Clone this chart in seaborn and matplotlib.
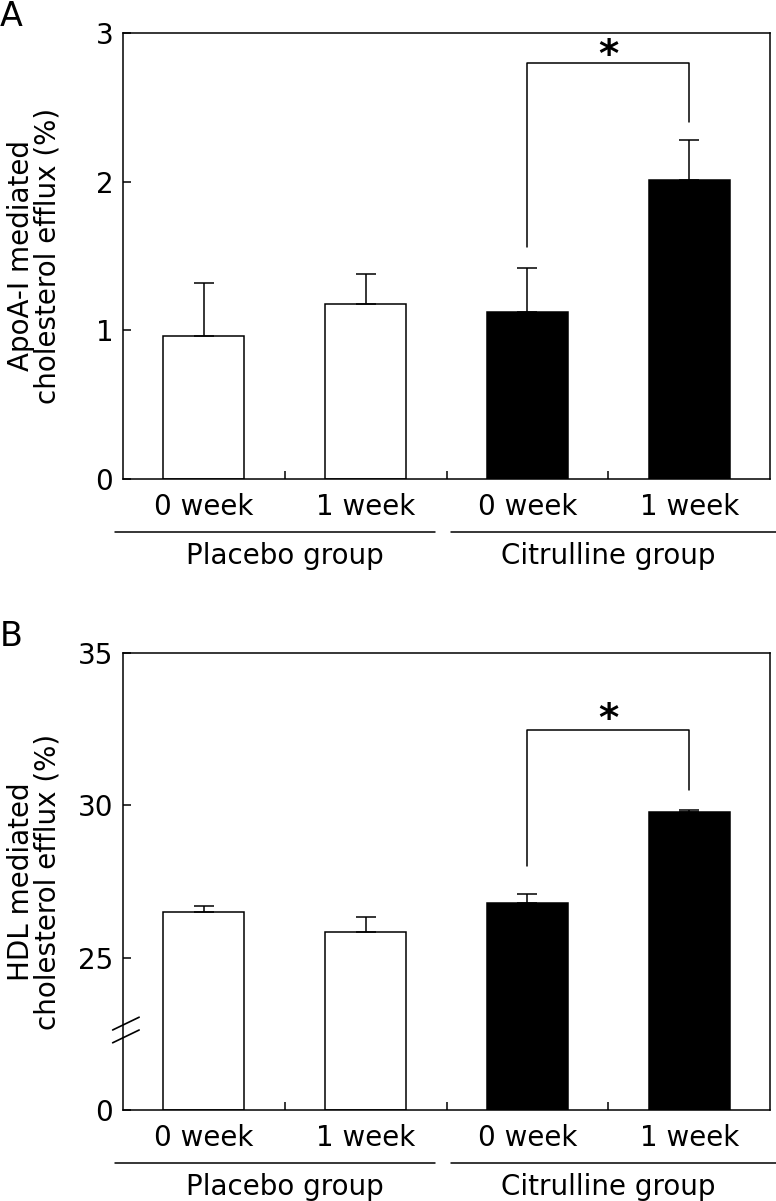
import numpy as np
import pandas as pd
import matplotlib
matplotlib.use('Agg')
import matplotlib.pyplot as plt
import matplotlib.transforms as mtransforms
import seaborn as sns

conditions = ['P0', 'P1', 'C0', 'C1']
week_labels = ['0 week', '1 week', '0 week', '1 week']
group_labels = ['Placebo group', 'Citrulline group']
bar_colors = ['white', 'white', 'black', 'black']

apoa_mean = [0.96, 1.18, 1.12, 2.01]
apoa_sem = [0.36, 0.20, 0.30, 0.27]
apoa_bracket = [1.56, 2.80, 2.40]
apoa_star_y = 2.77

hdl_mean = [26.51, 25.83, 26.78, 29.77]
hdl_sem = [0.17, 0.50, 0.32, 0.06]
hdl_bracket = [28.0, 32.47, 30.5]
hdl_star_y = 32.45

sns.set_style('ticks')
plt.rcParams['font.family'] = ['DejaVu Sans']
plt.rcParams['font.size'] = 20
plt.rcParams['axes.linewidth'] = 1.1
plt.rcParams['text.color'] = 'black'
plt.rcParams['xtick.color'] = 'black'
plt.rcParams['ytick.color'] = 'black'
plt.rcParams['axes.labelcolor'] = 'black'

fig = plt.figure(figsize=(7.76, 12.01), dpi=100)
ax_a = fig.add_axes([0.1585, 0.6012, 0.8338, 0.3713])
ax_b = fig.add_axes([0.1585, 0.0758, 0.8338, 0.3805])


def fwd(v):
    v = np.asarray(v, dtype=float)
    return np.where(v < 25, v / 5.0, v - 20.0)


def inv(u):
    u = np.asarray(u, dtype=float)
    return np.where(u < 5, u * 5.0, u + 20.0)


def draw_panel(ax, means, sems, bracket, star_y, ylabel, letter):
    df = pd.DataFrame({'cond': conditions, 'val': means})
    sns.barplot(data=df, x='cond', y='val', hue='cond', palette=bar_colors,
                edgecolor='black', linewidth=1.1, width=0.5, legend=False, ax=ax)
    ax.errorbar(range(4), means, yerr=[np.zeros(4), sems], fmt='none',
                ecolor='black', elinewidth=1.1, capsize=7.2, capthick=1.1, zorder=1)
    ax.plot([2, 2, 3, 3], [bracket[0], bracket[1], bracket[1], bracket[2]],
            color='black', lw=1.1)
    ax.text(2.5, star_y, '*', ha='center', va='baseline', fontsize=28,
            fontweight='bold')

    ax.set_xlim(-0.5, 3.5)
    ax.set_xticks(range(4))
    ax.set_xticklabels(week_labels)
    ax.set_xticks([0.5, 1.5, 2.5], minor=True)
    ax.tick_params(axis='x', which='major', length=0, pad=10)
    ax.tick_params(axis='x', which='minor', direction='in', length=6, width=1.1)
    ax.tick_params(axis='y', direction='in', length=6, width=1.1, pad=7)
    ax.set_xlabel('')
    ax.set_ylabel(ylabel, linespacing=0.95)
    ax.yaxis.set_label_coords(-0.095, 0.5)
    for s in ax.spines.values():
        s.set_visible(True)
        s.set_linewidth(1.1)
        s.set_color('black')

    # group lines and labels under the week labels
    base = ax.get_xaxis_transform()
    line_tr = base + mtransforms.ScaledTranslation(0, -0.53, fig.dpi_scale_trans)
    text_tr = base + mtransforms.ScaledTranslation(0, -0.77, fig.dpi_scale_trans)
    ax.plot([-0.55, 1.43], [0, 0], color='black', lw=1.1, transform=line_tr, clip_on=False)
    ax.plot([1.53, 3.54], [0, 0], color='black', lw=1.1, transform=line_tr, clip_on=False)
    ax.text(0.5, 0, group_labels[0], ha='center', va='center', transform=text_tr)
    ax.text(2.5, 0, group_labels[1], ha='center', va='center', transform=text_tr)

    ax.text(-0.19, 1.0, letter, transform=ax.transAxes, fontsize=24,
            ha='left', va='bottom')


draw_panel(ax_a, apoa_mean, apoa_sem, apoa_bracket, apoa_star_y,
           'ApoA-I mediated\ncholesterol efflux (%)', 'A')
ax_a.set_ylim(0, 3)
ax_a.set_yticks([0, 1, 2, 3])

ax_b.set_yscale('function', functions=(fwd, inv))
draw_panel(ax_b, hdl_mean, hdl_sem, hdl_bracket, hdl_star_y,
           'HDL mediated\ncholesterol efflux (%)', 'B')
ax_b.set_ylim(0, 35)
ax_b.set_yticks([0, 25, 30, 35])
ax_b.set_yticklabels(['0', '25', '30', '35'])
ax_b.yaxis.set_minor_locator(matplotlib.ticker.NullLocator())

# axis break marks
for y0 in [0.147, 0.175]:
    ax_b.plot([-0.016, 0.025], [y0, y0 + 0.028], color='black', lw=1.2,
              transform=ax_b.transAxes, clip_on=False)

fig.savefig('out.png', dpi=100)
